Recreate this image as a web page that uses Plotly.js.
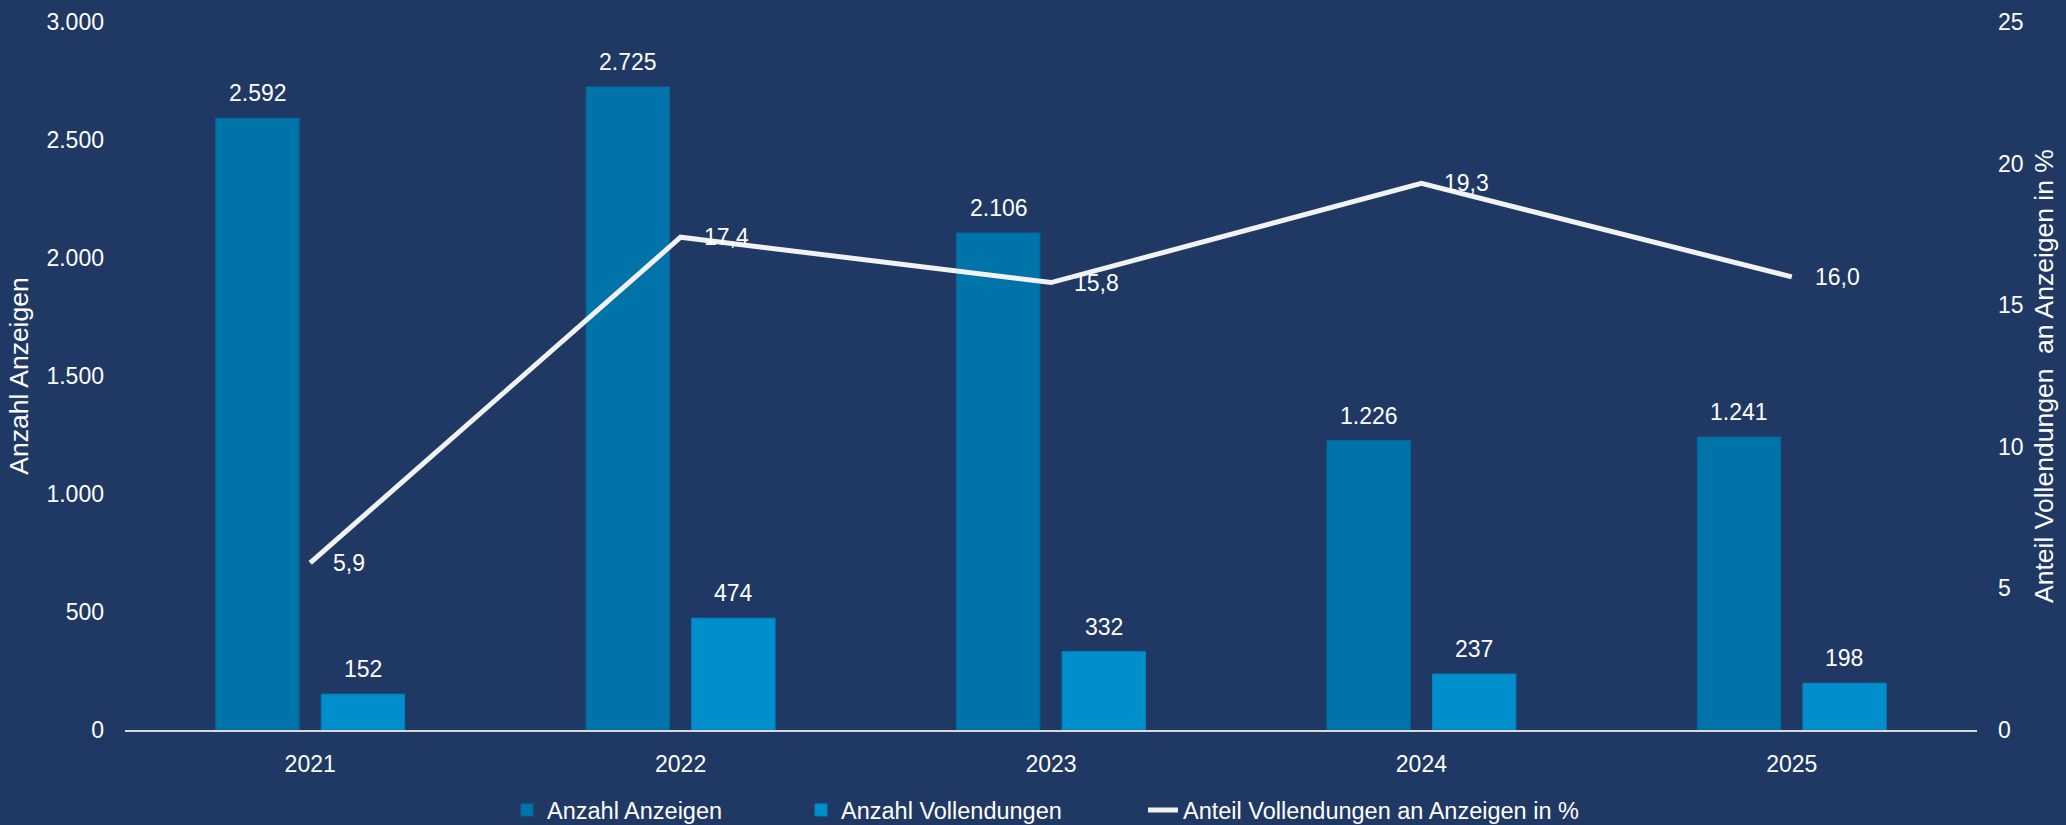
<!DOCTYPE html>
<html>
<head>
<meta charset="utf-8">
<script src="https://cdn.plot.ly/plotly-3.0.1.min.js"></script>
<style>
  html, body { margin: 0; padding: 0; background: #203864; }
  #chart { width: 2066px; height: 825px; }
</style>
</head>
<body>
<div id="chart"></div>
<script>
const years = ['2021', '2022', '2023', '2024', '2025'];
const anzeigen = [2592, 2725, 2106, 1226, 1241];
const vollendungen = [152, 474, 332, 237, 198];
const anteil = [5.9, 17.4, 15.8, 19.3, 16.0];
const leftTicks = [0, 500, 1000, 1500, 2000, 2500, 3000];
const rightTicks = [0, 5, 10, 15, 20, 25];

const seriesNames = ['Anzahl Anzeigen', 'Anzahl Vollendungen', 'Anteil Vollendungen an Anzeigen in %'];
const leftTitle = 'Anzahl Anzeigen';
const rightTitle = 'Anteil Vollendungen\u00a0 an Anzeigen in %';

const BG = '#203864';
const C1 = '#0073A8';
const C2 = '#008FCC';
const LINE = '#F2F2F2';
const FONT = 'Liberation Sans, Arial, Helvetica, sans-serif';

function fmtInt(v) { return String(v).replace(/\B(?=(\d{3})+(?!\d))/g, '.'); }
function fmtDec(v) { return v.toFixed(1).replace('.', ','); }

const traces = [
  {
    type: 'bar', name: seriesNames[0], x: years, y: anzeigen,
    marker: { color: C1, line: { color: '#006A9C', width: 1 } },
    legendwidth: 249, hoverinfo: 'skip'
  },
  {
    type: 'bar', name: seriesNames[1], x: years, y: vollendungen,
    marker: { color: C2, line: { color: '#0085BF', width: 1 } },
    legendwidth: 297, hoverinfo: 'skip'
  },
  {
    type: 'scatter', mode: 'lines', name: seriesNames[2], x: years, y: anteil,
    yaxis: 'y2', line: { color: LINE, width: 5 }, hoverinfo: 'skip'
  }
];

// annotations reference the category index of each year on the category axis
const annotations = [];
years.forEach((yr, i) => {
  annotations.push({
    x: i, y: anzeigen[i], xref: 'x', yref: 'y', xshift: -52.5, yshift: 10,
    yanchor: 'bottom', xanchor: 'center', showarrow: false,
    text: fmtInt(anzeigen[i]), font: { family: FONT, size: 23, color: '#FFFFFF' }
  });
  annotations.push({
    x: i, y: vollendungen[i], xref: 'x', yref: 'y', xshift: 52.5, yshift: 10,
    yanchor: 'bottom', xanchor: 'center', showarrow: false,
    text: fmtInt(vollendungen[i]), font: { family: FONT, size: 23, color: '#FFFFFF' }
  });
  annotations.push({
    x: i, y: anteil[i], xref: 'x', yref: 'y2', xshift: 21,
    yanchor: 'middle', xanchor: 'left', showarrow: false,
    text: fmtDec(anteil[i]), font: { family: FONT, size: 23, color: '#FFFFFF' }
  });
});

const layout = {
  width: 2066, height: 825,
  paper_bgcolor: BG, plot_bgcolor: BG,
  font: { family: FONT, size: 23, color: '#FFFFFF' },
  margin: { l: 125, r: 89, t: 22, b: 95, pad: 0 },
  separators: ',.',
  barmode: 'group', bargap: 0.43, bargroupgap: 0.21,
  showlegend: true,
  legend: {
    orientation: 'h', xref: 'container', yref: 'container',
    x: 0.2454, xanchor: 'left', y: 0.018, yanchor: 'middle',
    font: { family: FONT, size: 23.5, color: '#FFFFFF' }, bgcolor: 'rgba(0,0,0,0)',
    traceorder: 'normal'
  },
  xaxis: {
    type: 'category', categoryarray: years, range: [-0.5, years.length - 0.5],
    showline: true, linecolor: '#D9D9D9', linewidth: 2,
    ticks: '', showgrid: false, zeroline: false,
    tickfont: { family: FONT, size: 23, color: '#FFFFFF' }, ticklabelstandoff: 12,
    automargin: false
  },
  yaxis: {
    range: [0, 3000], tickvals: leftTicks, tickformat: ',d', showgrid: false,
    zeroline: false, showline: false, ticks: '',
    tickfont: { family: FONT, size: 23, color: '#FFFFFF' }, ticklabelstandoff: 20,
    title: { text: leftTitle, font: { family: FONT, size: 26.5, color: '#FFFFFF' }, standoff: 10 },
    automargin: false
  },
  yaxis2: {
    overlaying: 'y', side: 'right', range: [0, 25], tickvals: rightTicks,
    showgrid: false, zeroline: false, showline: false, ticks: '',
    tickfont: { family: FONT, size: 23, color: '#FFFFFF' }, ticklabelstandoff: 20,
    title: { text: rightTitle, font: { family: FONT, size: 26.5, color: '#FFFFFF' }, standoff: 11 },
    automargin: false
  },
  annotations: annotations
};

Plotly.newPlot('chart', traces, layout, { staticPlot: true, displayModeBar: false });
</script>
</body>
</html>
